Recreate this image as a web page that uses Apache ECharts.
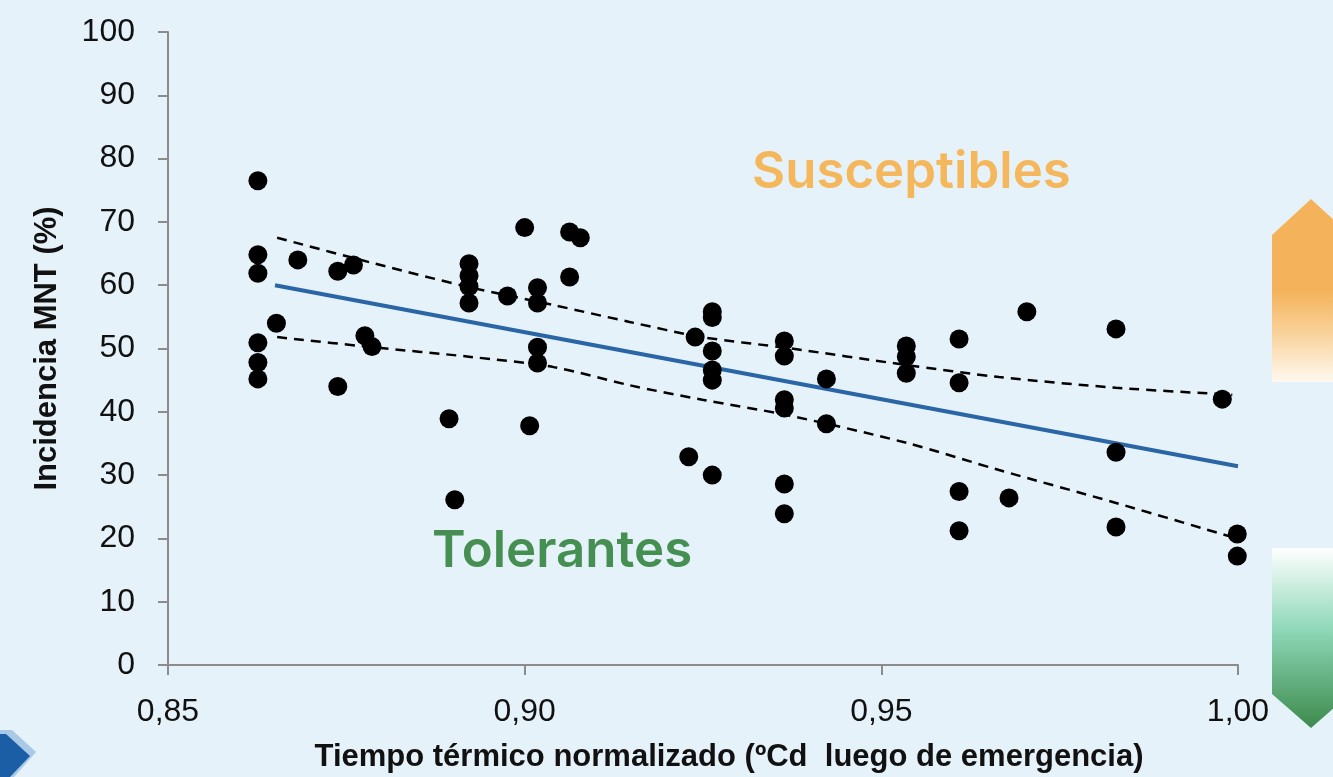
<!DOCTYPE html>
<html>
<head>
<meta charset="utf-8">
<script src="https://cdn.jsdelivr.net/npm/echarts@6/dist/echarts.min.js"></script>
<style>
html,body{margin:0;padding:0;background:#E6F2F9;}
#chart{width:1333px;height:777px;}
</style>
</head>
<body>
<div id="chart"></div>
<script>
// Scatter observations: [tiempo térmico normalizado, incidencia MNT %]
const pointsX = [
  0.8626,0.8626,0.8626,0.8626,0.8626,0.8626,
  0.8652,0.8682,0.8738,0.8738,0.8760,0.8776,0.8786,
  0.8894,0.8902,
  0.8922,0.8922,0.8922,0.8922,
  0.8976,0.9000,0.9007,
  0.9018,0.9018,0.9018,0.9018,
  0.9063,0.9063,0.9078,
  0.9230,0.9239,
  0.9263,0.9263,0.9263,0.9263,0.9263,0.9263,
  0.9364,0.9364,0.9364,0.9364,0.9364,0.9364,
  0.9423,0.9423,
  0.9535,0.9535,0.9535,
  0.9609,0.9609,0.9609,0.9609,
  0.9679,0.9704,
  0.9829,0.9829,0.9829,
  0.9978,0.9999,0.9999
];
const pointsY = [
  76.5,64.8,61.9,50.9,47.8,45.2,
  54.0,64.0,62.2,44.0,63.2,52.0,50.3,
  38.9,26.1,
  63.4,61.5,59.8,57.2,
  58.3,69.1,37.8,
  59.6,57.2,50.2,47.7,
  68.4,61.3,67.5,
  32.9,51.8,
  55.8,54.9,49.6,46.6,45.0,30.0,
  51.2,48.8,41.9,40.6,28.6,23.9,
  45.2,38.1,
  50.4,48.7,46.1,
  51.5,44.6,27.4,21.2,
  26.4,55.8,
  53.1,33.6,21.8,
  42.0,20.7,17.2
];
// Regression line
const fitX = [0.865, 1.0];
const fitY = [60.0, 31.4];
// Confidence band (upper / lower dashed curves)
const bandX     = [0.8653,0.8787,0.8922,0.9039,0.9147,0.9249,0.9367,0.9535,0.9665,0.9829,0.9992];
const upperY    = [67.5,63.5,59.7,56.9,54.2,51.8,50.1,47.4,45.5,43.8,42.7];
const lowerY    = [51.8,50.2,48.7,47.1,44.2,41.9,39.5,35.1,30.8,25.6,20.2];
// Axis ticks
const xTicks = [0.85, 0.90, 0.95, 1.00];
const yTicks = [0,10,20,30,40,50,60,70,80,90,100];

const zip = (a,b) => a.map((v,i)=>[v,b[i]]);

const chart = echarts.init(document.getElementById('chart'));
const axisFont = "'Liberation Sans', Arial, sans-serif";
const titleFont = "'Liberation Sans Narrow', 'Liberation Sans', Arial, sans-serif";

chart.setOption({
  backgroundColor: '#E6F2F9',
  animation: false,
  grid: {left: 168, right: 95, top: 32, bottom: 112, containLabel: false, outerBoundsMode: 'none'},
  xAxis: {
    type: 'value', min: 0.85, max: 1.0, interval: 0.05,
    axisLine: {show: true, lineStyle: {color: '#8C8C8C', width: 2}},
    axisTick: {show: true, length: 10, lineStyle: {color: '#8C8C8C', width: 2}},
    splitLine: {show: false},
    axisLabel: {color: '#111', fontFamily: axisFont, fontSize: 32, margin: 31,
      formatter: v => { const t = xTicks.find(k => Math.abs(k - v) < 1e-6); return (t !== undefined ? t : v).toFixed(2).replace('.', ','); }},
    name: 'Tiempo térmico normalizado (ºCd  luego de emergencia)',
    nameLocation: 'middle', nameGap: 77,
    nameTextStyle: {color: '#111', fontFamily: titleFont, fontWeight: 'bold', fontSize: 31, padding: [0, 0, 0, 52]}
  },
  yAxis: {
    type: 'value', min: 0, max: 100, interval: 10,
    axisLine: {show: true, lineStyle: {color: '#8C8C8C', width: 2}},
    axisTick: {show: true, length: 10, lineStyle: {color: '#8C8C8C', width: 2}},
    splitLine: {show: false},
    axisLabel: {color: '#111', fontFamily: axisFont, fontSize: 32, margin: 33,
      formatter: v => String(yTicks.find(k => Math.abs(k - v) < 1e-6) ?? v)},
    name: 'Incidencia MNT (%)',
    nameLocation: 'middle', nameGap: 105,
    nameTextStyle: {color: '#111', fontFamily: titleFont, fontWeight: 'bold', fontSize: 31}
  },
  series: [
    {
      type: 'line', data: zip(bandX, upperY), smooth: 0.3, symbol: 'none',
      lineStyle: {color: '#000', width: 2.5, type: [10, 7]}, z: 3
    },
    {
      type: 'line', data: zip(bandX, lowerY), smooth: 0.3, symbol: 'none',
      lineStyle: {color: '#000', width: 2.5, type: [10, 7]}, z: 3
    },
    {
      type: 'line', data: zip(fitX, fitY), symbol: 'none',
      lineStyle: {color: '#2A65A6', width: 4}, z: 4
    },
    {
      type: 'scatter', data: zip(pointsX, pointsY), symbol: 'circle', symbolSize: 19,
      itemStyle: {color: '#000', opacity: 1}, z: 5
    }
  ],
  graphic: [
    {type: 'text', left: 752, top: 147, z: 10,
      style: {text: 'Susceptibles', fill: '#F5B75C', font: "600 51px Inter, 'Noto Sans', sans-serif"}},
    {type: 'text', left: 432, top: 526, z: 10,
      style: {text: 'Tolerantes', fill: '#458F52', font: "600 51px Inter, 'Noto Sans', sans-serif"}},
    {type: 'polygon', z: 20,
      shape: {points: [[1272,235],[1311,199],[1350,235],[1350,382],[1272,382]]},
      style: {fill: new echarts.graphic.LinearGradient(0,0,0,1,[
        {offset: 0, color: '#F4B35A'}, {offset: 0.5, color: '#F4B35A'},
        {offset: 0.75, color: '#F9D49F'}, {offset: 1, color: '#FFF9F1'}])}},
    {type: 'polygon', z: 20,
      shape: {points: [[1272,548],[1350,548],[1350,694],[1311,728],[1272,694]]},
      style: {fill: new echarts.graphic.LinearGradient(0,0,0,1,[
        {offset: 0, color: '#FFFFFF'}, {offset: 0.45, color: '#8FD8B9'},
        {offset: 1, color: '#3D8A4C'}])}},
    {type: 'polygon', z: 20,
      shape: {points: [[0,730],[12,730],[36,752],[14,777],[0,777]]},
      style: {fill: '#A9C9E6'}},
    {type: 'polygon', z: 21,
      shape: {points: [[0,734],[6,734],[30,756],[10,777],[0,777]]},
      style: {fill: '#1B5EA6'}}
  ]
});
</script>
</body>
</html>
